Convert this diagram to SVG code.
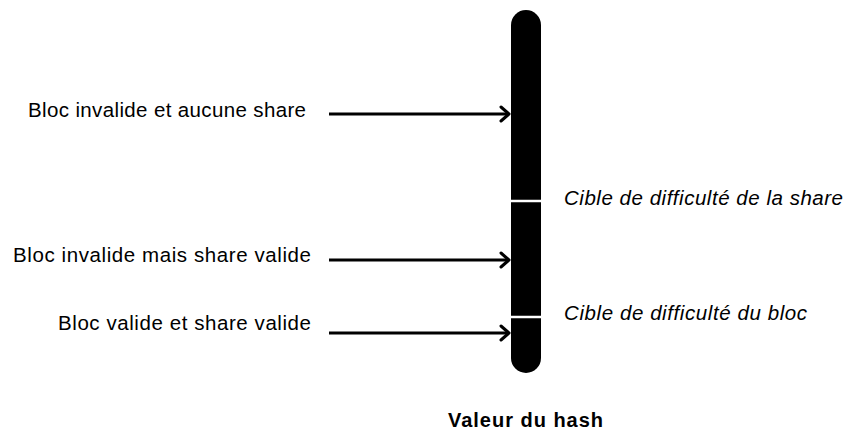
<svg xmlns="http://www.w3.org/2000/svg" width="847" height="431" viewBox="0 0 847 431">
<style>
text{font-family:"Liberation Sans",Arial,sans-serif;font-size:20.5px;fill:#000}
.i{font-style:italic}
.b{font-weight:bold;font-size:20px}
.c{stroke:#000;stroke-width:3;fill:none}
.h{stroke:#000;stroke-width:3;fill:none;stroke-linecap:round;stroke-linejoin:round}
</style>
<rect width="847" height="431" fill="#fff"/>
<g id="bar">
<rect x="511" y="10" width="30" height="363" rx="15" ry="15" fill="#000"/>
<line x1="511" y1="201" x2="541" y2="201" stroke="#fff" stroke-width="2.5"/>
<line x1="511" y1="317" x2="541" y2="317" stroke="#fff" stroke-width="2.5"/>
</g>
<g id="connectors">
<line class="c" x1="329" y1="114" x2="509" y2="114"/>
<polyline class="h" points="501,107 509,114 501,121"/>
<line class="c" x1="329" y1="260" x2="509" y2="260"/>
<polyline class="h" points="501,253 509,260 501,267"/>
<line class="c" x1="329" y1="333" x2="509" y2="333"/>
<polyline class="h" points="501,326 509,333 501,340"/>
</g>
<g id="label-aucune"><text x="28" y="117" textLength="278">Bloc invalide et aucune share</text></g>
<g id="label-share"><text x="13" y="262" textLength="298">Bloc invalide mais share valide</text></g>
<g id="label-bloc"><text x="58" y="330" textLength="253">Bloc valide et share valide</text></g>
<g id="target-share"><text class="i" x="564" y="205" textLength="279">Cible de difficulté de la share</text></g>
<g id="target-bloc"><text class="i" x="564" y="320" textLength="243">Cible de difficulté du bloc</text></g>
<g id="axis-label"><text class="b" x="448" y="427" textLength="155">Valeur du hash</text></g>
</svg>
